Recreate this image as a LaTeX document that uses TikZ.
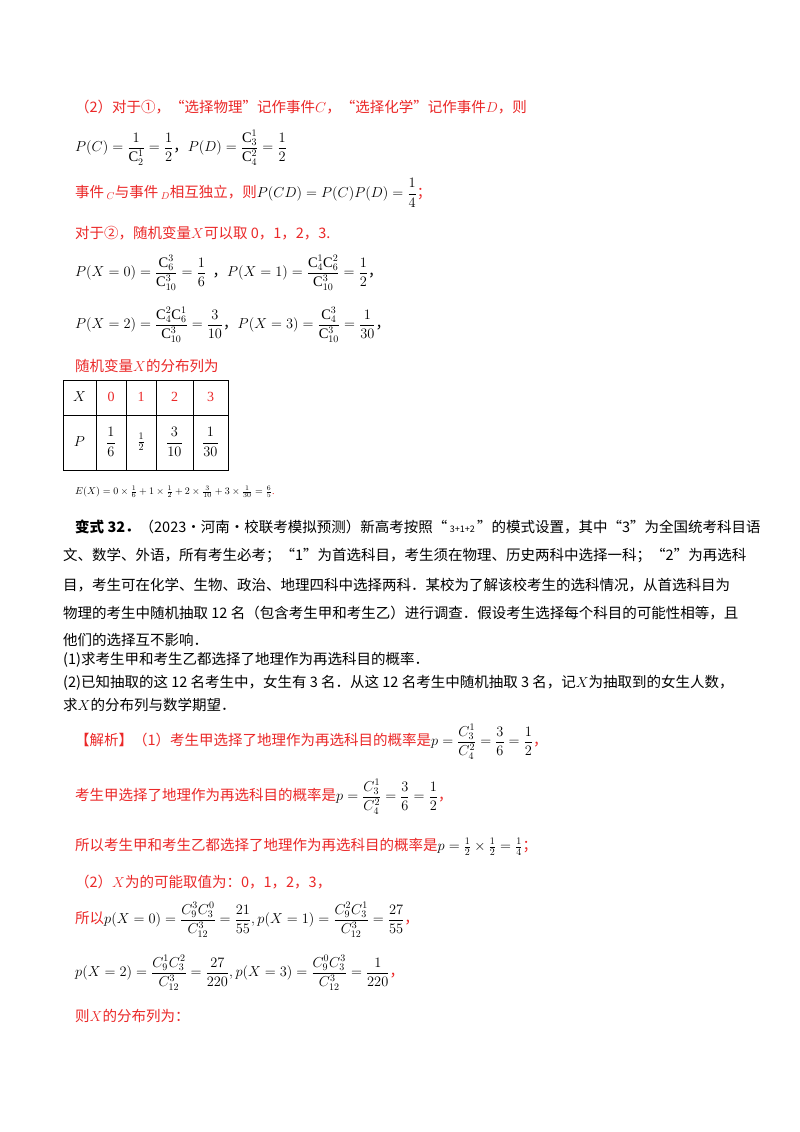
\documentclass[tikz,border=0pt]{standalone}
\usepackage{amsmath}
\usepackage{fontspec}
\setmainfont{Liberation Serif}
\newfontfamily\cjk{Noto Sans CJK SC}
\definecolor{myred}{RGB}{235,40,40}
\tikzset{ln/.style={anchor=west,inner sep=0pt,font=\cjk\fontsize{14.5}{16}\selectfont},
 rd/.style={ln,text=myred},
 cell/.style={inner sep=0pt,font=\fontsize{14}{16}\selectfont}}
\begin{document}
\begin{tikzpicture}[x=1pt,y=-1pt]
\useasboundingbox (0,0) rectangle (800,1132);
\fill[white] (0,0) rectangle (800,1132);
\node[rd] (l1) at (75,107) {（2）对于①，“选择物理”记作事件$C$，“选择化学”记作事件$D$，则};
\node[ln] (l2) at (75,148) {$P(C)=\dfrac{1}{\mathrm{C}_2^1}=\dfrac12$，$P(D)=\dfrac{\mathrm{C}_3^1}{\mathrm{C}_4^2}=\dfrac12$};
\node[rd] (l3) at (75,193) {事件$\,_{C}$与事件$\,_{D}$相互独立，则\textcolor{black}{$P(CD)=P(C)P(D)=\dfrac14$}；};
\node[rd] (l4) at (75,233) {对于②，随机变量$X$可以取 0，1，2，3.};
\node[ln] (l5) at (75,273) {$P(X=0)=\dfrac{\mathrm{C}_6^3}{\mathrm{C}_{10}^3}=\dfrac16$\ \ ，$P(X=1)=\dfrac{\mathrm{C}_4^1\mathrm{C}_6^2}{\mathrm{C}_{10}^3}=\dfrac12$，};
\node[ln] (l6) at (75,325) {$P(X=2)=\dfrac{\mathrm{C}_4^2\mathrm{C}_6^1}{\mathrm{C}_{10}^3}=\dfrac{3}{10}$，$P(X=3)=\dfrac{\mathrm{C}_4^3}{\mathrm{C}_{10}^3}=\dfrac{1}{30}$，};
\node[rd] (l7) at (75,366) {随机变量$X$的分布列为};
% table
\draw[line width=1pt] (63,380) rectangle (228,470);
\draw[line width=1pt] (63,415) -- (228,415);
\foreach \c in {96,126,156,193} \draw[line width=1pt] (\c,380) -- (\c,470);
\node[cell] (t0) at (79.5,397) {$X$};
\node[cell,text=myred] (t1) at (111,397) {0};
\node[cell,text=myred] (t2) at (141,397) {1};
\node[cell,text=myred] (t3) at (174.5,397) {2};
\node[cell,text=myred] (t4) at (210.5,397) {3};
\node[cell] (p0) at (79.5,442) {$P$};
\node[cell] (p1) at (111,442) {$\dfrac16$};
\node[cell] (p2) at (141,442) {$\frac12$};
\node[cell] (p3) at (174.5,442) {$\dfrac3{10}$};
\node[cell] (p4) at (210.5,442) {$\dfrac1{30}$};
\node[ln,font=\fontsize{10}{11}\selectfont] (ex) at (75,492) {$E(X)=0\times\frac16+1\times\frac12+2\times\frac3{10}+3\times\frac1{30}=\frac65$\textcolor{myred}{.}};
% problem
\node[ln] (b1) at (75,527) {\textbf{变式 32．}（2023·河南·校联考模拟预测）新高考按照“\,{\fontsize{9}{10}\selectfont 3+1+2}\,”的模式设置，其中“3”为全国统考科目语};
\node[ln] (b2) at (63,556) {文、数学、外语，所有考生必考；“1”为首选科目，考生须在物理、历史两科中选择一科；“2”为再选科};
\node[ln] (b3) at (63,585) {目，考生可在化学、生物、政治、地理四科中选择两科．某校为了解该校考生的选科情况，从首选科目为};
\node[ln] (b4) at (63,613) {物理的考生中随机抽取 12 名（包含考生甲和考生乙）进行调查．假设考生选择每个科目的可能性相等，且};
\node[ln] (b5) at (63,640) {他们的选择互不影响．};
\node[ln] (b6) at (63,660) {(1)求考生甲和考生乙都选择了地理作为再选科目的概率．};
\node[ln] (b7) at (63,683) {(2)已知抽取的这 12 名考生中，女生有 3 名．从这 12 名考生中随机抽取 3 名，记$X$为抽取到的女生人数，};
\node[ln] (b8) at (63,705) {求$X$的分布列与数学期望．};
% analysis
\node[rd] (a1) at (75,742) {【解析】（1）考生甲选择了地理作为再选科目的概率是\textcolor{black}{$p=\dfrac{C_3^1}{C_4^2}=\dfrac36=\dfrac12$}，};
\node[rd] (a2) at (75,797) {考生甲选择了地理作为再选科目的概率是\textcolor{black}{$p=\dfrac{C_3^1}{C_4^2}=\dfrac36=\dfrac12$}，};
\node[rd] (a3) at (75,847) {所以考生甲和考生乙都选择了地理作为再选科目的概率是\textcolor{black}{$p=\frac12\times\frac12=\frac14$}；};
\node[rd] (a4) at (75,882) {（2）$X$为的可能取值为：0，1，2，3，};
\node[rd] (a5) at (75,920) {所以\textcolor{black}{$p(X=0)=\dfrac{C_9^3C_3^0}{C_{12}^3}=\dfrac{21}{55},p(X=1)=\dfrac{C_9^2C_3^1}{C_{12}^3}=\dfrac{27}{55}$}，};
\node[ln] (a6) at (75,973) {$p(X=2)=\dfrac{C_9^1C_3^2}{C_{12}^3}=\dfrac{27}{220},p(X=3)=\dfrac{C_9^0C_3^3}{C_{12}^3}=\dfrac{1}{220}$\textcolor{myred}{，}};
\node[rd] (a7) at (75,1016) {则$X$的分布列为：};
\end{tikzpicture}
\end{document}
